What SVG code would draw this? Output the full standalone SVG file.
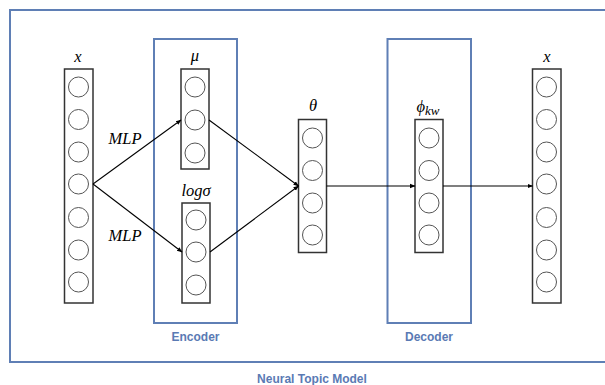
<svg xmlns="http://www.w3.org/2000/svg" width="605" height="385" viewBox="0 0 605 385">
<defs>
<marker id="ah" markerWidth="6" markerHeight="6" refX="5" refY="3" orient="auto" markerUnits="userSpaceOnUse">
<path d="M0,0.8 L5.5,3 L0,5.2 Z" fill="#000"/>
</marker>
</defs>
<style>
.frame{fill:none;stroke:#5f7fb5;stroke-width:2}
.col{fill:#fff;stroke:#333;stroke-width:1.5}
.c{fill:#fff;stroke:#555;stroke-width:1}
.m{font-family:"Liberation Serif","DejaVu Serif",serif;font-style:italic;font-size:16.5px;fill:#000;text-anchor:middle}
.b{font-family:"Liberation Sans",Arial,sans-serif;font-weight:bold;font-size:12px;fill:#5a7ab4;text-anchor:middle}
.e{fill:none;stroke:#000;stroke-width:1.1;marker-end:url(#ah)}
</style>
<rect width="605" height="385" fill="#fff"/>
<rect class="frame" x="10" y="10" width="600" height="352"/>
<text class="b" x="312" y="383">Neural Topic Model</text>
<g id="encoder">
<rect class="frame" x="154" y="39" width="83" height="284"/>
<text class="b" x="195.5" y="341">Encoder</text>
</g>
<g id="decoder">
<rect class="frame" x="387.5" y="39" width="83.5" height="284"/>
<text class="b" x="429" y="341">Decoder</text>
</g>
<g id="x-in">
<text class="m" x="78" y="62">x</text>
<rect class="col" x="64.5" y="69" width="28.5" height="234"/>
<circle class="c" cx="78.5" cy="87" r="10"/>
<circle class="c" cx="78.5" cy="119.5" r="10"/>
<circle class="c" cx="78.5" cy="152" r="10"/>
<circle class="c" cx="78.5" cy="184" r="10"/>
<circle class="c" cx="78.5" cy="217.5" r="10"/>
<circle class="c" cx="78.5" cy="250" r="10"/>
<circle class="c" cx="78.5" cy="282" r="10"/>
</g>
<g id="mu">
<text class="m" x="195" y="61">μ</text>
<rect class="col" x="181" y="69" width="28" height="100"/>
<circle class="c" cx="195" cy="87" r="10"/>
<circle class="c" cx="195" cy="120" r="10"/>
<circle class="c" cx="195" cy="153" r="10"/>
</g>
<g id="logsigma">
<text class="m" x="196" y="196">logσ</text>
<rect class="col" x="182" y="203" width="28" height="100"/>
<circle class="c" cx="196" cy="220" r="10"/>
<circle class="c" cx="196" cy="252" r="10"/>
<circle class="c" cx="196" cy="285" r="10"/>
</g>
<g id="theta">
<text class="m" x="313" y="111">θ</text>
<rect class="col" x="298.5" y="119.5" width="28" height="133"/>
<circle class="c" cx="312.5" cy="138" r="10"/>
<circle class="c" cx="312.5" cy="170.5" r="10"/>
<circle class="c" cx="312.5" cy="203" r="10"/>
<circle class="c" cx="312.5" cy="235" r="10"/>
</g>
<g id="phi">
<text class="m" x="428" y="112">ϕ<tspan font-size="13" dy="3">kw</tspan></text>
<rect class="col" x="415" y="119.5" width="28" height="133"/>
<circle class="c" cx="429" cy="138" r="10"/>
<circle class="c" cx="429" cy="170.5" r="10"/>
<circle class="c" cx="429" cy="203" r="10"/>
<circle class="c" cx="429" cy="235" r="10"/>
</g>
<g id="x-out">
<text class="m" x="547" y="62">x</text>
<rect class="col" x="532.5" y="69" width="28.5" height="234"/>
<circle class="c" cx="546.5" cy="87" r="10"/>
<circle class="c" cx="546.5" cy="119.5" r="10"/>
<circle class="c" cx="546.5" cy="152" r="10"/>
<circle class="c" cx="546.5" cy="184" r="10"/>
<circle class="c" cx="546.5" cy="217.5" r="10"/>
<circle class="c" cx="546.5" cy="250" r="10"/>
<circle class="c" cx="546.5" cy="282" r="10"/>
</g>
<g id="connectors">
<line class="e" x1="93" y1="184" x2="181" y2="120"/>
<line class="e" x1="93" y1="184" x2="182" y2="252"/>
<line class="e" x1="209" y1="120" x2="298.5" y2="186"/>
<line class="e" x1="210" y1="252" x2="298.5" y2="186"/>
<line class="e" x1="326.5" y1="186" x2="415" y2="186"/>
<line class="e" x1="443" y1="186" x2="532.5" y2="186"/>
<text class="m" x="125" y="144">MLP</text>
<text class="m" x="125" y="241">MLP</text>
</g>
</svg>
